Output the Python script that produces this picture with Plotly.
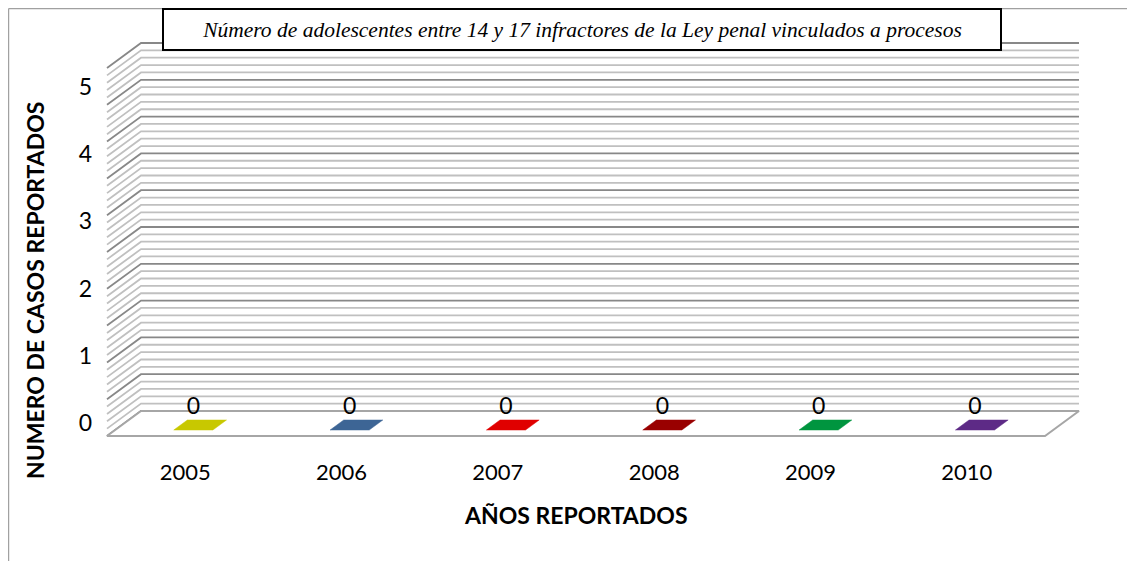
import numpy as np
import plotly.graph_objects as go

# datos
years = ['2005', '2006', '2007', '2008', '2009', '2010']
casos = [0, 0, 0, 0, 0, 0]
colores = ['#c8c800', '#3d6595', '#e00000', '#990000', '#00953f', '#5d2a86']
y_ticks = [0, 1, 2, 3, 4, 5]
titulo = 'Número de adolescentes entre 14 y 17 infractores de la Ley penal vinculados a procesos'

FONT = 'Lato'
N = len(years)
Y_MAX = 5
# vector de profundidad (perspectiva oblicua) en unidades de los ejes
DX, DY = -0.2175, -0.3397
BAR_W = 0.25          # ancho de la barra (en categorias)
D0, D1 = 0.36, 0.76   # profundidad de la barra dentro del piso

fig = go.Figure()

# lineas de la pared del fondo + pared lateral
def wall_lines(values):
    xs, ys = [], []
    for v in values:
        xs += [DX, 0, N, None]
        ys += [v + DY, v, v, None]
    return xs, ys

grid = np.round(np.arange(0, Y_MAX + 0.001, 0.1), 2)
minor = [v for v in grid if round(v * 2) != v * 2]
major = [v for v in grid if round(v * 2) == v * 2]

xs, ys = wall_lines(minor)
fig.add_trace(go.Scatter(x=xs, y=ys, mode='lines', line=dict(color='#c0c0c0', width=1.8),
                         hoverinfo='skip', showlegend=False))
xs, ys = wall_lines(major)
fig.add_trace(go.Scatter(x=xs, y=ys, mode='lines', line=dict(color='#888888', width=1.8),
                         hoverinfo='skip', showlegend=False))

# piso
fig.add_trace(go.Scatter(x=[0, N, N + DX, DX, 0], y=[0, 0, DY, DY, 0], mode='lines',
                         fill='toself', fillcolor='white', line=dict(color='#a6a6a6', width=2),
                         hoverinfo='skip', showlegend=False))

# barras 3D (cara frontal + cara superior)
for i, (v, c) in enumerate(zip(casos, colores)):
    x0 = i + 0.5 - BAR_W / 2
    x1 = i + 0.5 + BAR_W / 2
    fx = [x0 + DX * D1, x1 + DX * D1, x1 + DX * D1, x0 + DX * D1, x0 + DX * D1]
    fy = [DY * D1, DY * D1, v + DY * D1, v + DY * D1, DY * D1]
    fig.add_trace(go.Scatter(x=fx, y=fy, mode='lines', fill='toself', fillcolor=c,
                             line=dict(width=0), hoverinfo='skip', showlegend=False))
    tx = [x0 + DX * D0, x1 + DX * D0, x1 + DX * D1, x0 + DX * D1, x0 + DX * D0]
    ty = [v + DY * D0, v + DY * D0, v + DY * D1, v + DY * D1, v + DY * D0]
    fig.add_trace(go.Scatter(x=tx, y=ty, mode='lines', fill='toself', fillcolor=c,
                             line=dict(width=0.5, color=c), hoverinfo='skip', showlegend=False))

# etiquetas de datos
fig.add_trace(go.Scatter(x=[i + 0.5 + DX * D1 for i in range(N)],
                         y=[v + DY * D0 for v in casos],
                         mode='text', text=[str(v) for v in casos], textposition='top center',
                         textfont=dict(family=FONT, size=23, color='black'),
                         hoverinfo='skip', showlegend=False))

# eje auxiliar para las etiquetas del eje y
fig.add_trace(go.Scatter(x=[0.5], y=[0], yaxis='y2', mode='markers', marker=dict(opacity=0),
                         hoverinfo='skip', showlegend=False))

fig.update_layout(
    width=1135, height=561,
    margin=dict(l=92, r=53, t=32, b=124),
    paper_bgcolor='white', plot_bgcolor='white',
    font=dict(family=FONT, color='black'),
    xaxis=dict(range=[-0.2623, 6.0704], tickvals=[i + 0.5 + DX for i in range(N)], ticktext=years,
               showgrid=False, zeroline=False, showline=False, ticks='',
               ticklabelstandoff=12, tickfont=dict(size=22)),
    yaxis=dict(range=[-0.462, 5.0408], visible=False),
    yaxis2=dict(overlaying='y', side='left', range=[-0.3274, 5.7], tickvals=y_ticks,
                showgrid=False, zeroline=False, showline=False, ticks='',
                ticklabelstandoff=7, tickfont=dict(size=23)),
    hovermode=False,
)

# borde del area del grafico
fig.add_shape(type='line', xref='paper', yref='paper', x0=-0.0923, x1=1.07, y0=1.0775, y1=1.0775,
              line=dict(color='#a0a0a0', width=1.2))
fig.add_shape(type='line', xref='paper', yref='paper', x0=-0.0923, x1=-0.0923, y0=1.0775, y1=-0.33,
              line=dict(color='#a0a0a0', width=1.2))

# titulo
fig.add_annotation(text='<i>' + titulo + '</i>', xref='paper', yref='paper', x=0.4869, y=1.0259,
                   showarrow=False, font=dict(family='Liberation Serif', size=21.5, color='black'),
                   bgcolor='white', bordercolor='black', borderwidth=2, borderpad=0,
                   width=836, height=39, xanchor='center', yanchor='middle')

# titulos de ejes
fig.add_annotation(text='<b>AÑOS REPORTADOS</b>', xref='paper', yref='paper',
                   x=(576 - 100) / 990, y=(445 - 515) / 405, showarrow=False,
                   font=dict(family=FONT, size=23), xanchor='center', yanchor='middle')
fig.add_annotation(text='<b>NUMERO DE CASOS REPORTADOS</b>', xref='paper', yref='paper',
                   x=(35 - 100) / 990, y=(445 - 291) / 405, showarrow=False, textangle=-90,
                   font=dict(family=FONT, size=23), xanchor='center', yanchor='middle')

fig.write_html('out.html')
